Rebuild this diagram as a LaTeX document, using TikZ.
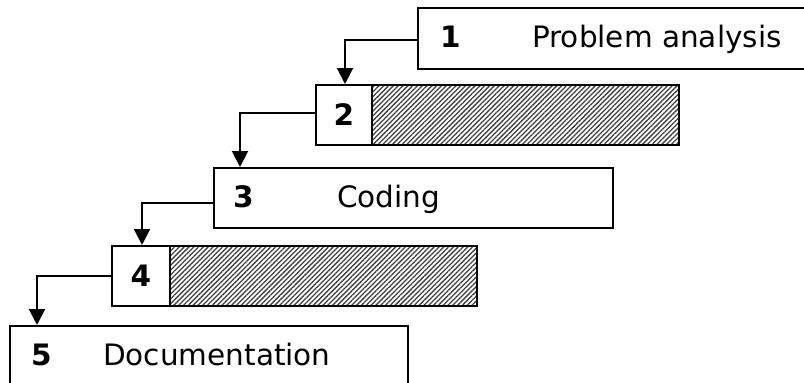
\documentclass[tikz,border=0pt]{standalone}
\usepackage{fontspec}
\setmainfont{DejaVu Sans}
\usetikzlibrary{arrows.meta,patterns.meta}
\tikzset{
  stagebox/.style={draw=black, line width=2pt, fill=white, inner sep=0pt, anchor=north west},
  hatchbox/.style={draw=black, line width=2pt, inner sep=0pt, anchor=north west,
     pattern={Lines[angle=45,distance=3.4pt,line width=1.3pt]}, pattern color=black!75},
  numlabel/.style={font=\fontsize{29.5}{30}\selectfont\bfseries, anchor=base west, inner sep=0pt},
  namelabel/.style={font=\fontsize{29.5}{30}\selectfont, anchor=base west, inner sep=0pt},
  flow/.style={draw=black, line width=2pt, -{Triangle[width=16pt,length=16pt]}}
}
\begin{document}
\begin{tikzpicture}[x=1pt,y=-1pt]
\useasboundingbox (0,0) rectangle (804,383);
\clip (0,0) rectangle (804,383);
% box 1
\node[stagebox, minimum width=420pt, minimum height=61pt] (b1) at (417,7) {};
\node[numlabel] (n1) at (440,47) {1};
\node[namelabel] (t1) at (532,47) {Problem analysis};
% box 2
\node[stagebox, minimum width=56pt, minimum height=60pt] (b2) at (315,84) {};
\node[hatchbox, minimum width=307pt, minimum height=60pt] (h2) at (371,84) {};
\node[font=\fontsize{29.5}{30}\selectfont\bfseries, inner sep=0pt] (n2) at (b2.center) {2};
% box 3
\node[stagebox, minimum width=399pt, minimum height=60pt] (b3) at (213,167) {};
\node[numlabel] (n3) at (233,207) {3};
\node[namelabel] (t3) at (337,207) {Coding};
% box 4
\node[stagebox, minimum width=58pt, minimum height=60pt] (b4) at (111,245) {};
\node[hatchbox, minimum width=307pt, minimum height=60pt] (h4) at (169,245) {};
\node[font=\fontsize{29.5}{30}\selectfont\bfseries, inner sep=0pt] (n4) at (b4.center) {4};
% box 5
\node[stagebox, minimum width=398pt, minimum height=80pt] (b5) at (9,325) {};
\node[numlabel] (n5) at (31,365) {5};
\node[namelabel] (t5) at (103,365) {Documentation};
% connectors
\coordinate (a2) at ([xshift=30pt]b2.north west);
\coordinate (a3) at ([xshift=27pt]b3.north west);
\coordinate (a4) at ([xshift=31pt]b4.north west);
\coordinate (a5) at ([xshift=28pt]b5.north west);
\draw[flow] ([yshift=-1.5pt]b1.west) -| (a2);
\draw[flow] ([yshift=2pt]b2.west) -| (a3);
\draw[flow] ([yshift=-5pt]b3.west) -| (a4);
\draw[flow] (b4.west) -| (a5);
\end{tikzpicture}
\end{document}
